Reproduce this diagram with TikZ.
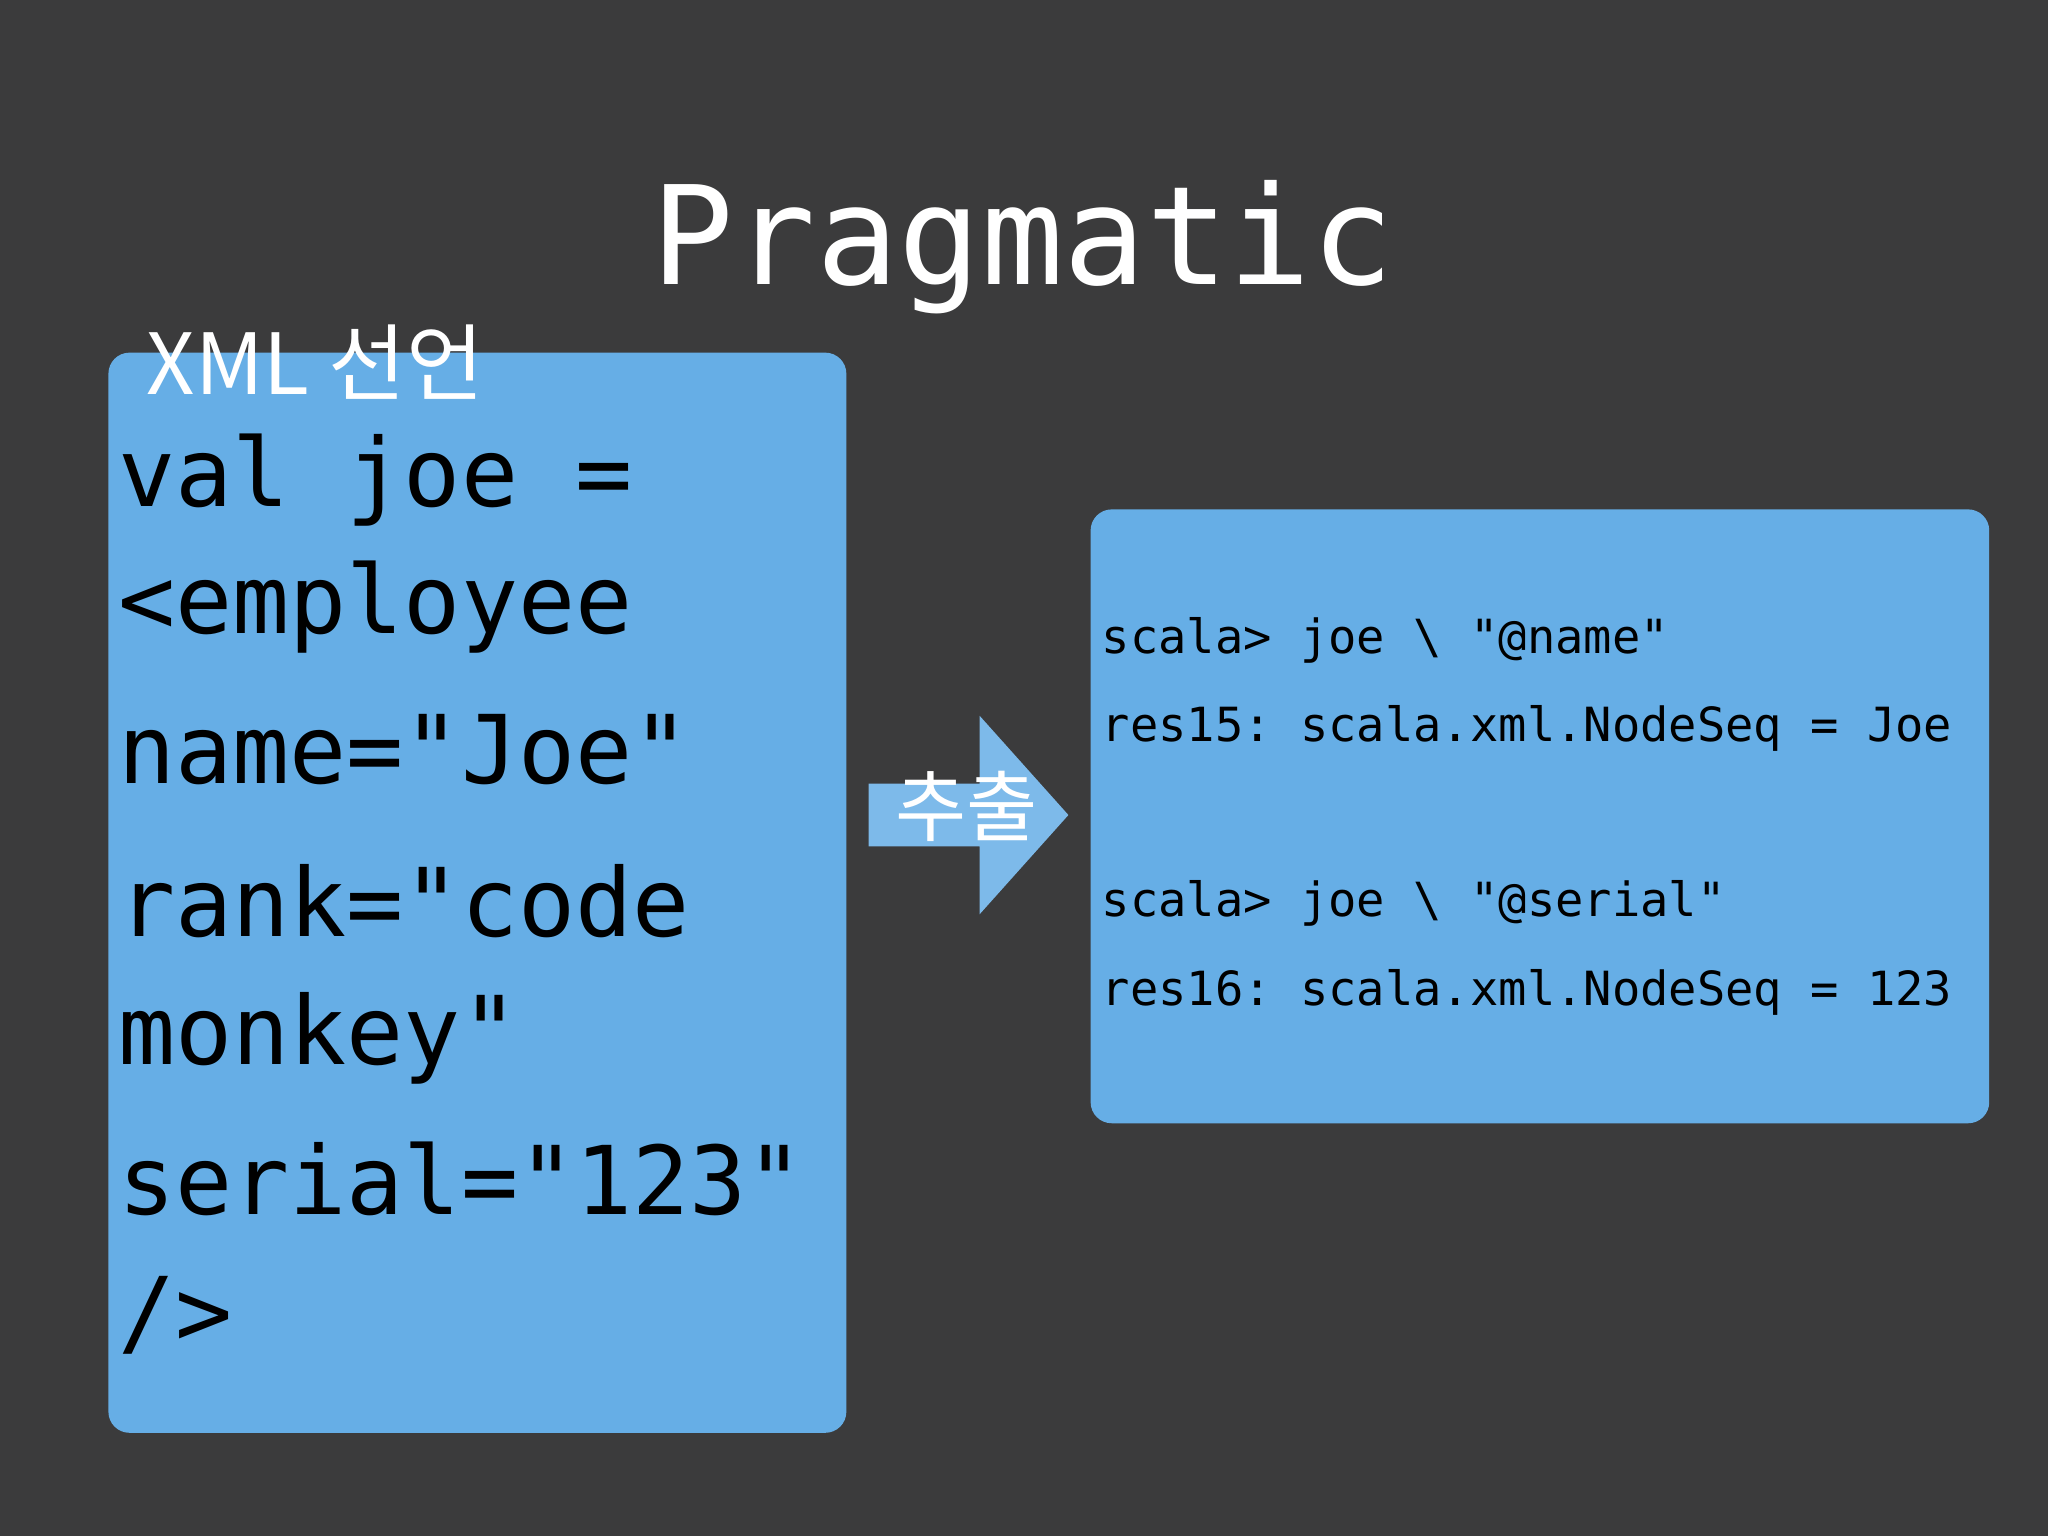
\documentclass[tikz,border=0pt]{standalone}
\usepackage{fontspec}
\setmonofont{DejaVu Sans Mono}
\newfontfamily\kr{Noto Sans CJK KR}
\definecolor{bg}{HTML}{3B3B3C}
\definecolor{boxblue}{HTML}{66AEE6}
\begin{document}
\begin{tikzpicture}[x=0.01306cm,y=-0.01306cm,
  codebig/.style={anchor=base west,inner sep=0,font=\ttfamily\fontsize{27}{27}\selectfont,text=black},
  codesmall/.style={anchor=base west,inner sep=0,font=\ttfamily\fontsize{13.4}{13.4}\selectfont,text=black},
  panel/.style={fill=boxblue,rounded corners=6pt,draw=none}]
\fill[bg] (0,0) rectangle (1568,1176);
\useasboundingbox (0,0) rectangle (1568,1176);
\node[anchor=base,inner sep=0,text=white,font=\ttfamily\fontsize{39}{39}\selectfont] (title) at (783,218) {Pragmatic};
\fill[panel] (83,270) rectangle (648,1097);
\coordinate (lb) at (83,270);
\fill[panel] (835,390) rectangle (1523,860);
\node[anchor=base west,inner sep=0,text=white,font=\kr\fontsize{24}{24}\selectfont] (lbl) at (112,302) {XML 선언};
\node[codebig] (l1) at (90,388) {val joe =};
\node[codebig] (l2) at (90,485) {<employee};
\node[codebig] (l3) at (90,600) {name="Joe"};
\node[codebig] (l4) at (90,717) {rank="code};
\node[codebig] (l5) at (90,815) {monkey"};
\node[codebig] (l6) at (90,930) {serial="123"};
\node[codebig] (l7) at (90,1030) {/>};
\node[codesmall] (r1) at (843,500) {scala> joe \textbackslash{} "@name"};
\node[codesmall] (r2) at (843,568) {res15: scala.xml.NodeSeq = Joe};
\node[codesmall] (r3) at (843,702) {scala> joe \textbackslash{} "@serial"};
\node[codesmall] (r4) at (843,770) {res16: scala.xml.NodeSeq = 123};
\fill[boxblue!85!white] (665,600) -- (750,600) -- (750,548) -- (818,624) -- (750,700) -- (750,648) -- (665,648) -- cycle;
\node[anchor=base,inner sep=0,text=white,font=\kr\fontsize{22}{22}\selectfont] (arr) at (740,640) {추출};
\end{tikzpicture}
\end{document}
